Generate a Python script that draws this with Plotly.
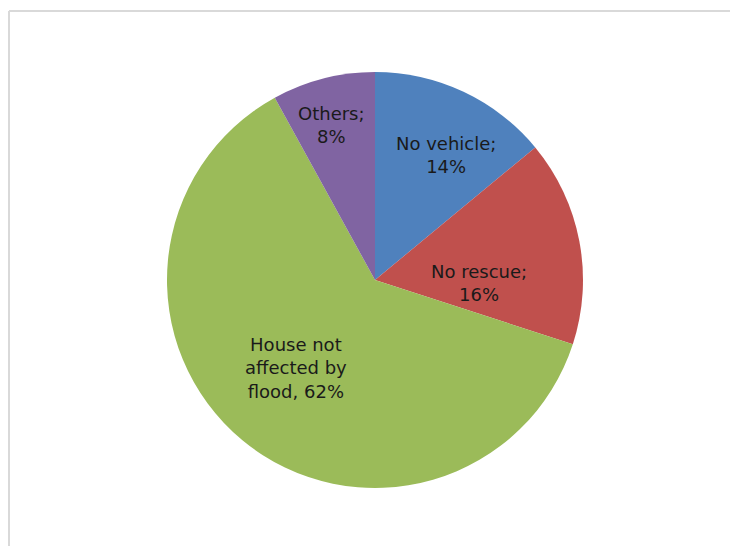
import plotly.graph_objects as go

categories = ["No vehicle", "No rescue", "House not affected by flood", "Others"]
values = [14, 16, 62, 8]
label_text = ["No vehicle;<br>14%", "No rescue;<br>16%", "House not<br>affected by<br>flood, 62%", "Others;<br>8%"]
colors = ["#4F81BD", "#C0504D", "#9BBB59", "#8064A2"]

W, H = 730, 546
cx, cy, R = 375, 280, 208
# label centres (layout only, in screen pixels)
label_pos = [(446, 155), (479, 283), (296, 368), (331, 125)]

fig = go.Figure(go.Pie(
    labels=categories,
    values=values,
    sort=False,
    direction="clockwise",
    rotation=0,
    marker=dict(colors=colors, line=dict(width=0)),
    textinfo="none",
    hoverinfo="label+percent",
    showlegend=False,
    domain=dict(x=[(cx - R) / W, (cx + R) / W], y=[(H - cy - R) / H, (H - cy + R) / H]),
))

annotations = []
for t, (px, py) in zip(label_text, label_pos):
    annotations.append(dict(
        x=px / W, y=1 - py / H, xref="paper", yref="paper",
        text=t, showarrow=False, xanchor="center", yanchor="middle",
        font=dict(family="DejaVu Sans", size=18, color="#1a1a1a"),
        align="center",
    ))

bx = 9 / W
by = 1 - 11 / H
fig.update_layout(
    width=W, height=H,
    margin=dict(l=0, r=0, t=0, b=0),
    paper_bgcolor="white",
    plot_bgcolor="white",
    annotations=annotations,
    shapes=[
        dict(type="line", xref="paper", yref="paper", x0=bx, x1=1, y0=by, y1=by,
             line=dict(color="#d9d9d9", width=2)),
        dict(type="line", xref="paper", yref="paper", x0=bx, x1=bx, y0=0, y1=by,
             line=dict(color="#d9d9d9", width=2)),
    ],
)

fig.write_html(
    "out.html",
    config={"displayModeBar": False},
    post_script="document.body.style.margin='0';document.body.style.overflow='hidden';",
)
